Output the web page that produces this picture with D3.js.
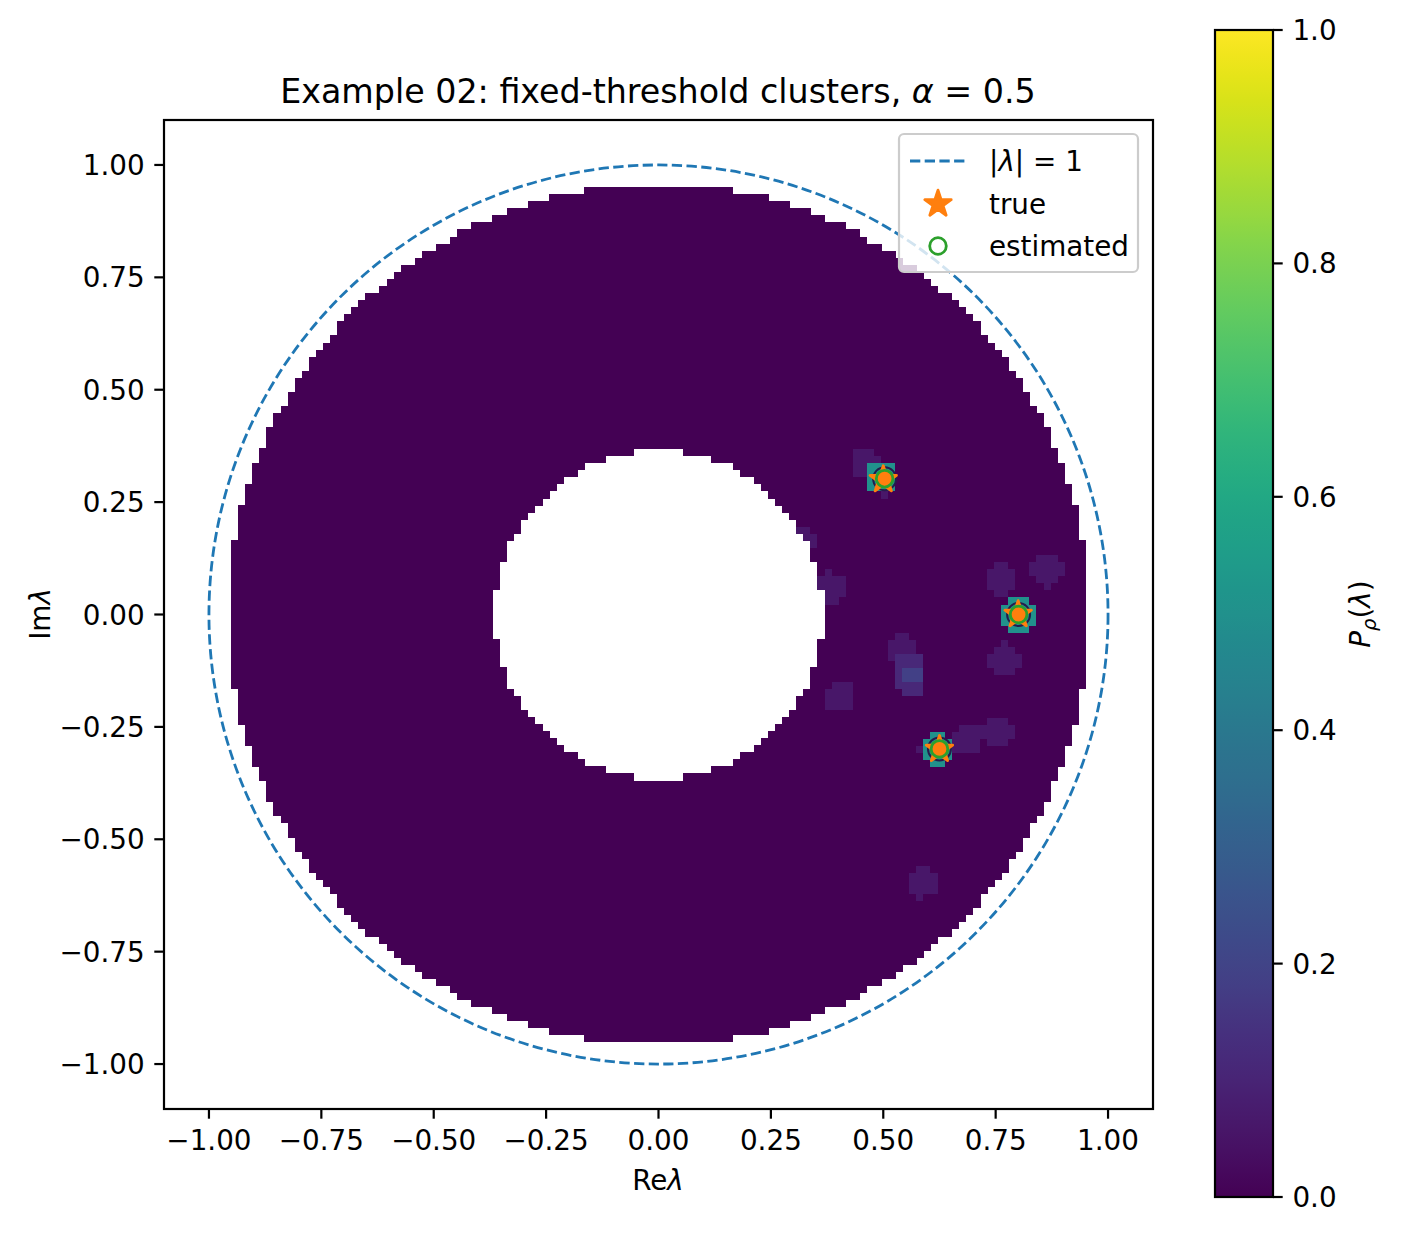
<!DOCTYPE html>
<html>
<head>
<meta charset="utf-8">
<script src="https://cdn.jsdelivr.net/npm/d3@7"></script>
<style>
body { margin: 0; background: #fff; }
text { font-family: "DejaVu Sans", sans-serif; }
</style>
</head>
<body>
<div id="chart"></div>
<script>
// grid: cell centres at k*gridStep, k = -gridN..gridN on both axes
var gridN = 70;
var gridStep = 2.2 / 140;
// P is only defined inside this annulus, cells outside stay blank
var rInner = 0.366, rOuter = 0.957;

// patches of nonzero P: [reIdx0, reIdx1, imIdx0, imIdx1, P]
var blobs = [
  [28, 30, 20, 23, 0.06], [31, 31, 22, 22, 0.06],
  [30, 33, 18, 21, 0.5], [32, 32, 17, 17, 0.06],
  [20, 21, 12, 12, 0.06], [21, 22, 10, 11, 0.06],
  [23, 26, 3, 5, 0.06], [24, 24, 6, 6, 0.06], [24, 25, 2, 2, 0.06],
  [47, 50, 4, 6, 0.06], [48, 49, 7, 7, 0.06], [48, 49, 3, 3, 0.06],
  [53, 57, 6, 7, 0.06], [54, 56, 8, 8, 0.06], [54, 56, 5, 5, 0.06], [55, 55, 4, 4, 0.06],
  [49, 53, -1, 1, 0.5], [50, 52, -2, 2, 0.5],
  [47, 51, -7, -6, 0.06], [48, 50, -5, -5, 0.06], [49, 49, -4, -4, 0.06], [48, 50, -8, -8, 0.06],
  [24, 27, -13, -11, 0.06], [25, 27, -10, -10, 0.06],
  [33, 36, -6, -4, 0.06], [34, 35, -3, -3, 0.06],
  [34, 37, -10, -6, 0.11], [35, 37, -11, -11, 0.11], [35, 37, -9, -8, 0.19],
  [42, 45, -19, -17, 0.06], [43, 45, -16, -16, 0.06],
  [46, 50, -17, -16, 0.06], [47, 49, -15, -15, 0.06], [47, 49, -18, -18, 0.06],
  [38, 41, -20, -18, 0.5], [39, 40, -21, -17, 0.5], [37, 37, -19, -19, 0.06],
  [36, 39, -39, -37, 0.06], [37, 38, -36, -36, 0.06], [37, 37, -40, -40, 0.06]
];

var trueEig = [[0.5, 0.3], [0.8, 0.0], [0.625, -0.3]];
var estEig = [[0.503, 0.302], [0.801, 0.0], [0.625, -0.299]];

var axTicks = [-1, -0.75, -0.5, -0.25, 0, 0.25, 0.5, 0.75, 1];
var cbTicks = [0, 0.2, 0.4, 0.6, 0.8, 1];

var W = 1402, H = 1236;
var fs = 27.8, tick = 9.7, lw = 2.2;

var svg = d3.select("#chart").append("svg")
    .attr("width", W)
    .attr("height", H);

var x = d3.scaleLinear().domain([-1.1, 1.1]).range([164, 1153]);
var y = d3.scaleLinear().domain([-1.1, 1.1]).range([1109, 120]);
var color = d3.scaleSequential(d3.interpolateViridis).domain([0, 1]);

// heat map cells
var cells = [];
for (var i = -gridN; i <= gridN; i++) {
  for (var j = -gridN; j <= gridN; j++) {
    var r = Math.hypot(i, j) * gridStep;
    if (r < rInner || r > rOuter) continue;
    var v = 0;
    blobs.forEach(function (b) {
      if (i >= b[0] && i <= b[1] && j >= b[2] && j <= b[3]) v = Math.max(v, b[4]);
    });
    cells.push({re: i * gridStep, im: j * gridStep, v: v});
  }
}
var h = gridStep / 2;
svg.append("g").selectAll("rect")
    .data(cells)
    .enter()
    .append("rect")
    .attr("x", function (d) { return x(d.re - h); })
    .attr("y", function (d) { return y(d.im + h); })
    .attr("width", function (d) { return x(d.re + h) - x(d.re - h) + 0.6; })
    .attr("height", function (d) { return y(d.im - h) - y(d.im + h) + 0.6; })
    .attr("fill", function (d) { return color(d.v); })
    .attr("shape-rendering", "crispEdges");

// |lambda| = 1
svg.append("ellipse")
    .attr("cx", x(0)).attr("cy", y(0))
    .attr("rx", x(1) - x(0)).attr("ry", y(0) - y(1))
    .attr("fill", "none")
    .attr("stroke", "#1f77b4")
    .attr("stroke-width", 2.8)
    .attr("stroke-dasharray", "10.3 4.4");

function starPath(R) {
  var pts = [];
  for (var k = 0; k < 10; k++) {
    var rr = k % 2 ? R * 0.381966 : R;
    var a = -Math.PI / 2 + k * Math.PI / 5;
    pts.push([rr * Math.cos(a), rr * Math.sin(a)]);
  }
  return "M" + pts.map(function (p) { return p[0].toFixed(2) + "," + p[1].toFixed(2); }).join("L") + "Z";
}

// dark rings round the estimated points
svg.append("g").selectAll("circle")
    .data(estEig)
    .enter()
    .append("circle")
    .attr("cx", function (d) { return x(d[0]); })
    .attr("cy", function (d) { return y(d[1]); })
    .attr("r", 11.5)
    .attr("fill", "none")
    .attr("stroke", "#261c4c")
    .attr("stroke-width", 2);

svg.append("g").selectAll("path")
    .data(trueEig)
    .enter()
    .append("path")
    .attr("transform", function (d) { return "translate(" + x(d[0]) + "," + y(d[1]) + ")"; })
    .attr("d", starPath(13.9))
    .attr("fill", "#ff7f0e")
    .attr("stroke", "#ff7f0e")
    .attr("stroke-width", 2.8)
    .attr("stroke-linejoin", "round");

svg.append("g").selectAll("circle")
    .data(estEig)
    .enter()
    .append("circle")
    .attr("cx", function (d) { return x(d[0]); })
    .attr("cy", function (d) { return y(d[1]); })
    .attr("r", 8.3)
    .attr("fill", "#ff7f0e")
    .attr("stroke", "#2ca02c")
    .attr("stroke-width", 2.8);

// frame
svg.append("rect")
    .attr("x", 164).attr("y", 120)
    .attr("width", 989).attr("height", 989)
    .attr("fill", "none")
    .attr("stroke", "#000")
    .attr("stroke-width", lw);

function fmt(v) { return d3.format(".2f")(v).replace("-", "\u2212"); }

var xAxis = svg.append("g").attr("transform", "translate(0,1109)");
xAxis.selectAll("line").data(axTicks).enter().append("line")
    .attr("x1", function (d) { return x(d); }).attr("x2", function (d) { return x(d); })
    .attr("y1", 0).attr("y2", tick)
    .attr("stroke", "#000").attr("stroke-width", lw);
xAxis.selectAll("text").data(axTicks).enter().append("text")
    .attr("x", function (d) { return x(d); })
    .attr("y", 41)
    .attr("text-anchor", "middle")
    .attr("font-size", fs)
    .text(fmt);

var yAxis = svg.append("g").attr("transform", "translate(164,0)");
yAxis.selectAll("line").data(axTicks).enter().append("line")
    .attr("y1", function (d) { return y(d); }).attr("y2", function (d) { return y(d); })
    .attr("x1", 0).attr("x2", -tick)
    .attr("stroke", "#000").attr("stroke-width", lw);
yAxis.selectAll("text").data(axTicks).enter().append("text")
    .attr("y", function (d) { return y(d); })
    .attr("x", -2 * tick)
    .attr("dy", "0.36em")
    .attr("text-anchor", "end")
    .attr("font-size", fs)
    .text(fmt);

// labels
var xl = svg.append("text")
    .attr("x", 658).attr("y", 1190)
    .attr("text-anchor", "middle")
    .attr("font-size", fs);
xl.append("tspan").text("Re");
xl.append("tspan").attr("font-style", "italic").text("\u03bb");

var yl = svg.append("text")
    .attr("transform", "translate(50,614) rotate(-90)")
    .attr("text-anchor", "middle")
    .attr("font-size", fs);
yl.append("tspan").text("Im");
yl.append("tspan").attr("font-style", "italic").text("\u03bb");

var title = svg.append("text")
    .attr("x", 658).attr("y", 103)
    .attr("text-anchor", "middle")
    .attr("font-size", 33.3);
title.append("tspan").text("Example 02: fixed-threshold clusters, ");
title.append("tspan").attr("font-style", "italic").text("\u03b1");
title.append("tspan").text(" = 0.5");

// legend
var lg = svg.append("g");
lg.append("rect")
    .attr("x", 899).attr("y", 134)
    .attr("width", 239).attr("height", 138)
    .attr("rx", 5)
    .attr("fill", "#fff").attr("fill-opacity", 0.8)
    .attr("stroke", "#cccccc").attr("stroke-width", lw);
lg.append("line")
    .attr("x1", 910).attr("x2", 966)
    .attr("y1", 161).attr("y2", 161)
    .attr("stroke", "#1f77b4").attr("stroke-width", 2.8)
    .attr("stroke-dasharray", "10.3 4.4");
lg.append("path")
    .attr("transform", "translate(938,204)")
    .attr("d", starPath(13.9))
    .attr("fill", "#ff7f0e")
    .attr("stroke", "#ff7f0e")
    .attr("stroke-width", 2.8)
    .attr("stroke-linejoin", "round");
lg.append("circle")
    .attr("cx", 938).attr("cy", 246).attr("r", 8.3)
    .attr("fill", "none").attr("stroke", "#2ca02c").attr("stroke-width", 2.8);
var t1 = lg.append("text").attr("x", 989).attr("y", 161).attr("dy", "0.36em").attr("font-size", fs);
t1.append("tspan").text("|");
t1.append("tspan").attr("font-style", "italic").text("\u03bb");
t1.append("tspan").text("| = 1");
lg.append("text").attr("x", 989).attr("y", 204).attr("dy", "0.36em").attr("font-size", fs).text("true");
lg.append("text").attr("x", 989).attr("y", 246).attr("dy", "0.36em").attr("font-size", fs).text("estimated");

// colour bar
var cy = d3.scaleLinear().domain([0, 1]).range([1197, 30]);
var grad = svg.append("defs").append("linearGradient")
    .attr("id", "vir")
    .attr("x1", 0).attr("y1", 1).attr("x2", 0).attr("y2", 0);
grad.selectAll("stop")
    .data(d3.range(0, 1.0001, 0.02))
    .enter()
    .append("stop")
    .attr("offset", function (d) { return d; })
    .attr("stop-color", function (d) { return color(d); });
svg.append("rect")
    .attr("x", 1215).attr("y", 30)
    .attr("width", 58).attr("height", 1167)
    .attr("fill", "url(#vir)")
    .attr("stroke", "#000").attr("stroke-width", lw);
var cb = svg.append("g").attr("transform", "translate(1273,0)");
cb.selectAll("line").data(cbTicks).enter().append("line")
    .attr("y1", function (d) { return cy(d); }).attr("y2", function (d) { return cy(d); })
    .attr("x1", 0).attr("x2", tick)
    .attr("stroke", "#000").attr("stroke-width", lw);
cb.selectAll("text").data(cbTicks).enter().append("text")
    .attr("y", function (d) { return cy(d); })
    .attr("x", 2 * tick)
    .attr("dy", "0.36em")
    .attr("font-size", fs)
    .text(function (d) { return d3.format(".1f")(d); });

var cl = svg.append("text")
    .attr("transform", "translate(1370,614) rotate(-90)")
    .attr("text-anchor", "middle")
    .attr("font-size", fs);
cl.append("tspan").attr("font-style", "italic").text("P");
cl.append("tspan").attr("font-style", "italic").attr("font-size", fs * 0.7).attr("dy", 6).text("\u03c1");
cl.append("tspan").attr("dy", -6).text("(");
cl.append("tspan").attr("font-style", "italic").text("\u03bb");
cl.append("tspan").text(")");
</script>
</body>
</html>
